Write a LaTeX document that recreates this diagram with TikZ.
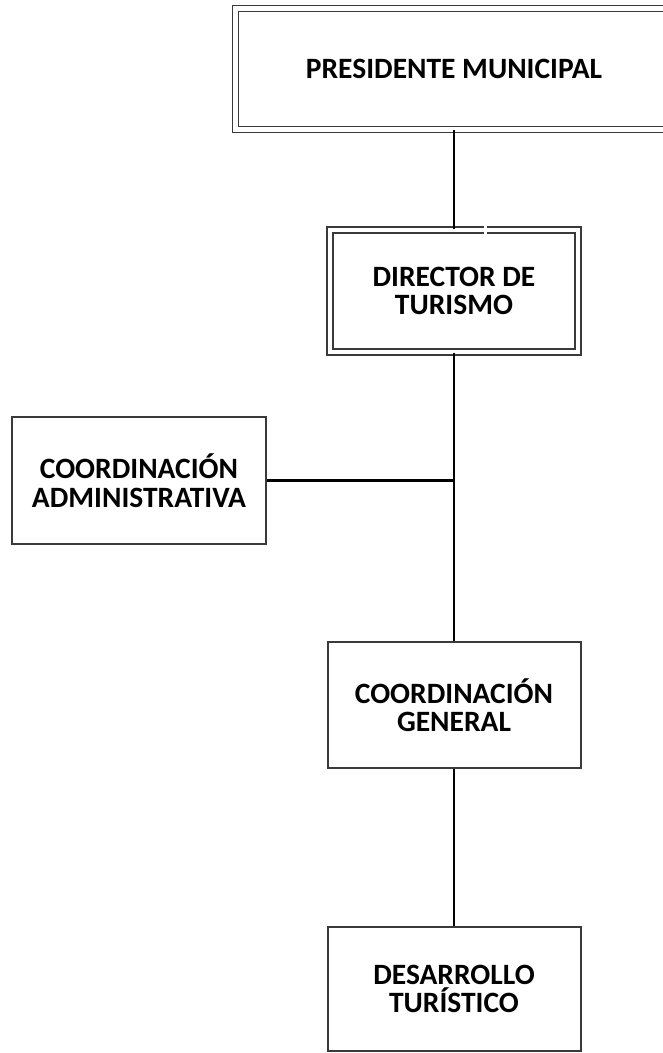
\documentclass[tikz,border=0pt]{standalone}
\usepackage{fontspec}
\setmainfont{Carlito}
\definecolor{boxgray}{HTML}{3A3A3A}
\begin{document}
\begin{tikzpicture}[x=1pt,y=-1pt,
  box/.style={draw=boxgray, line width=2pt, rectangle, inner sep=0pt, align=center,
    font=\bfseries\fontsize{29.5}{28.5}\selectfont, fill=white},
  dbox/.style={box, double=white, double distance=4.2pt, line width=1.8pt},
  link/.style={draw=black, line width=2.4pt}]
\useasboundingbox (0,0) rectangle (663,1053);
\node[dbox, minimum width=437pt, minimum height=121pt] (pres) at (454,69) {PRESIDENTE MUNICIPAL};
\node[dbox, minimum width=248pt, minimum height=121.5pt] (dir) at (454,291) {DIRECTOR DE\\TURISMO};
\node[box, minimum width=254pt, minimum height=127pt] (adm) at (139,480.5) {COORDINACIÓN\\ADMINISTRATIVA};
\node[box, minimum width=253pt, minimum height=126pt] (gen) at (454,705) {COORDINACIÓN\\GENERAL};
\node[box, minimum width=253pt, minimum height=124pt] (des) at (454,989) {DESARROLLO\\TURÍSTICO};
\coordinate (j) at (454,480.5);
\draw[link] (pres.south) -- (dir.north);
\draw[link] (dir.south) -- (gen.north);
\draw[link] (gen.south) -- (des.north);
\draw[link] (adm.east) -- (j);
% small break in the director's top border
\fill[white] (483.5,224) rectangle (486.5,237);
\end{tikzpicture}
\end{document}
